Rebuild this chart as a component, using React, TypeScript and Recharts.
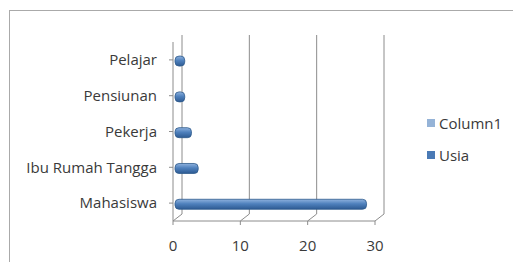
import { BarChart, Bar, XAxis, YAxis, CartesianGrid, Legend } from 'recharts';

const categories = ['Pelajar', 'Pensiunan', 'Pekerja', 'Ibu Rumah Tangga', 'Mahasiswa'];
const usia = [1, 1, 2, 3, 28];
const column1: (number | null)[] = [null, null, null, null, null];
const xTicks = [0, 10, 20, 30];

const data = categories.map((name, i) => ({ name, usia: usia[i], column1: column1[i] }));

const DX = 9;
const DY = -7;
const LINE = '#8c8c8c';
const TEXT = '#3a3a3a';
const FONT = '"Open Sans", Lato, sans-serif';

// back wall lines (fake 3d depth)
const WallLine = (props: any) => {
  const { x1, y1, y2 } = props;
  return (
    <g>
      <line x1={x1} y1={y2} x2={x1 + DX} y2={y2 + DY} stroke={LINE} strokeWidth={1} />
      <line x1={x1 + DX} y1={y2 + DY} x2={x1 + DX} y2={y1 + DY} stroke={LINE} strokeWidth={1} />
    </g>
  );
};

const BarShape = (props: any) => {
  const { x, y, width, height } = props;
  if (!width || width <= 0) return null;
  const h = 10;
  const cy = y + height / 2 + 1;
  return (
    <rect
      x={x + 2}
      y={cy - h / 2}
      width={width + 3}
      height={h}
      rx={4}
      ry={4}
      fill="url(#barGrad)"
      stroke="#2f5a8c"
      strokeWidth={0.8}
    />
  );
};

const LegendBox = () => (
  <div style={{ fontFamily: FONT, fontSize: 15, color: TEXT }}>
    {[
      { label: 'Column1', color: '#95b3d7' },
      { label: 'Usia', color: '#4a7ab5' },
    ].map((it) => (
      <div key={it.label} style={{ display: 'flex', alignItems: 'center', height: 32 }}>
        <span style={{ width: 8, height: 8, background: it.color, marginRight: 4, display: 'inline-block' }} />
        <span>{it.label}</span>
      </div>
    ))}
  </div>
);

export default function App() {
  return (
    <div style={{ position: 'absolute', left: 0, top: 0, width: 513, height: 262, background: '#fff', overflow: 'hidden' }}>
      <div
        style={{
          position: 'absolute',
          left: 9,
          top: 10,
          width: 520,
          height: 270,
          border: '1.5px solid #aaaaaa',
          boxSizing: 'border-box',
        }}
      />
      <BarChart
        layout="vertical"
        width={513}
        height={262}
        data={data}
        margin={{ top: 42, right: 48, bottom: 11, left: 0 }}
        style={{ position: 'absolute', left: 0, top: 0 }}
      >
        <defs>
          <linearGradient id="barGrad" x1="0" y1="0" x2="0" y2="1">
            <stop offset="0%" stopColor="#8fb2de" />
            <stop offset="45%" stopColor="#4f81bd" />
            <stop offset="100%" stopColor="#2d5a92" />
          </linearGradient>
        </defs>
        <CartesianGrid horizontal={false} vertical={WallLine} stroke={LINE} />
        <XAxis
          type="number"
          domain={[0, 30]}
          ticks={xTicks}
          axisLine={{ stroke: LINE }}
          tickLine={{ stroke: LINE }}
          tickSize={4}
          tickMargin={15}
          height={30}
          tick={{ fill: TEXT, fontSize: 15, fontFamily: FONT }}
        />
        <YAxis
          type="category"
          dataKey="name"
          width={173}
          axisLine={{ stroke: LINE }}
          tickLine={{ stroke: LINE }}
          tickSize={4}
          tickMargin={12}
          tick={{ fill: TEXT, fontSize: 15, fontFamily: FONT }}
        />
        <Legend
          layout="vertical"
          align="right"
          verticalAlign="middle"
          content={<LegendBox />}
          wrapperStyle={{ left: 427, top: 107, width: 90 }}
        />
        <Bar dataKey="column1" name="Column1" stackId="a" fill="#95b3d7" isAnimationActive={false} />
        <Bar dataKey="usia" name="Usia" stackId="a" fill="#4f81bd" shape={BarShape} isAnimationActive={false} />
      </BarChart>
    </div>
  );
}
